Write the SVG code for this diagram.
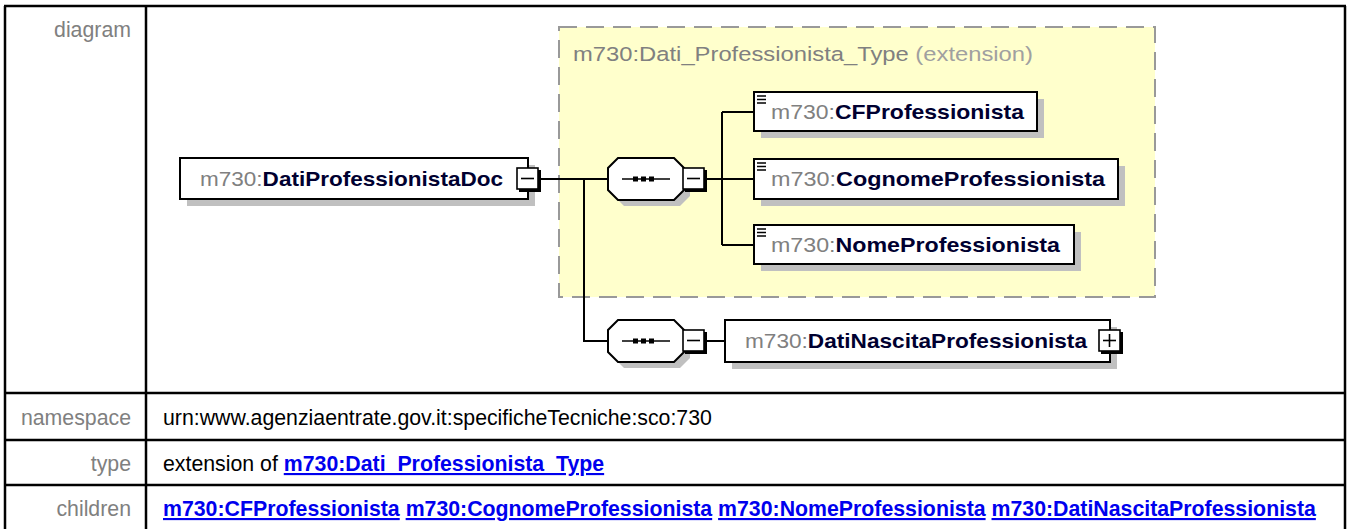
<svg xmlns="http://www.w3.org/2000/svg" width="1348" height="529" viewBox="0 0 1348 529">
<defs>
<style>
.lbl{font-family:"Liberation Sans",Arial,sans-serif;font-size:21.3px;fill:#808080;text-anchor:end}
.val{font-family:"Liberation Sans",Arial,sans-serif;font-size:21.3px;fill:#000}
.lnk{font-family:"Liberation Sans",Arial,sans-serif;font-size:21.3px;font-weight:bold;fill:#0000EE;text-decoration:underline}
.grid{stroke:#000;stroke-width:2.5;fill:none}
.box{fill:#fff;stroke:#000;stroke-width:2}
.shd{fill:#c0c0c0}
.ntxt{font-family:"Liberation Sans",Arial,sans-serif;font-size:20.5px}
.pfx{fill:#808080}
.nm{fill:#000030;font-weight:bold}
.conn{stroke:#000;stroke-width:2;fill:none}
.btn{fill:#fff;stroke:#000;stroke-width:1.6}
.btnshd{fill:#000}
.sym{stroke:#000;stroke-width:1.6}
.icon{stroke:#000;stroke-width:1.5}
</style>
</defs>
<rect width="1348" height="529" fill="#fff"/>

<g id="table">
<line class="grid" x1="4" y1="6" x2="1346" y2="6"/>
<line class="grid" x1="5" y1="6" x2="5" y2="529"/>
<line class="grid" x1="1345" y1="6" x2="1345" y2="529"/>
<line class="grid" x1="146" y1="6" x2="146" y2="529"/>
<line class="grid" x1="5" y1="393" x2="1345" y2="393"/>
<line class="grid" x1="5" y1="440" x2="1345" y2="440"/>
<line class="grid" x1="5" y1="485" x2="1345" y2="485"/>
<text class="lbl" x="131" y="37">diagram</text>
<text class="lbl" x="131" y="425">namespace</text>
<text class="lbl" x="131" y="471">type</text>
<text class="lbl" x="131" y="516">children</text>
<text class="val" x="163" y="425">urn:www.agenziaentrate.gov.it:specificheTecniche:sco:730</text>
<text class="val" x="163" y="471">extension of <tspan class="lnk">m730:Dati_Professionista_Type</tspan></text>
<text class="val" x="163" y="516"><tspan class="lnk">m730:CFProfessionista</tspan> <tspan class="lnk">m730:CognomeProfessionista</tspan> <tspan class="lnk">m730:NomeProfessionista</tspan> <tspan class="lnk">m730:DatiNascitaProfessionista</tspan></text>
</g>

<g id="extension">
<rect x="559" y="27" width="596" height="270" fill="#FFFFCC" stroke="#999" stroke-width="2" stroke-dasharray="18 9"/>
<text class="ntxt" x="573" y="61" textLength="460" lengthAdjust="spacingAndGlyphs"><tspan fill="#808080">m730:Dati_Professionista_Type</tspan><tspan fill="#a0a0a0"> (extension)</tspan></text>
</g>

<g id="connectors">
<path class="conn" d="M540 179 H608 M584 179 V341 H608"/>
<path class="conn" d="M705 179 H722 M722 112 V245 M722 112 H754 M722 179 H754 M722 245 H754"/>
<path class="conn" d="M705 341 H725"/>
</g>

<g id="root">
<rect class="shd" x="187" y="165" width="348" height="41"/>
<rect class="box" x="180" y="158" width="348" height="41"/>
<text class="ntxt" x="200" y="186" textLength="303" lengthAdjust="spacingAndGlyphs"><tspan class="pfx">m730:</tspan><tspan class="nm">DatiProfessionistaDoc</tspan></text>
<rect class="btnshd" x="519" y="170" width="22" height="22"/>
<rect class="btn" x="517" y="168" width="21" height="21"/>
<line class="sym" x1="521" y1="178.5" x2="534" y2="178.5"/>
</g>

<g id="seq1">
<polygon class="shd" points="624,164 680,164 690,174 690,196 680,206 624,206 614,196 614,174"/>
<polygon class="box" points="618,158 674,158 684,168 684,190 674,200 618,200 608,190 608,168"/>
<line class="sym" x1="622" y1="179" x2="670" y2="179"/>
<rect x="633" y="176.5" width="5" height="5" fill="#000"/>
<rect x="641" y="176.5" width="5" height="5" fill="#000"/>
<rect x="649" y="176.5" width="5" height="5" fill="#000"/>
<rect class="btnshd" x="685" y="170" width="22" height="22"/>
<rect class="btn" x="683" y="168" width="21" height="21"/>
<line class="sym" x1="687" y1="178.5" x2="700" y2="178.5"/>
</g>

<g id="cf">
<rect class="shd" x="761" y="99" width="283" height="39"/>
<rect class="box" x="754" y="92" width="283" height="39"/>
<path class="icon" d="M757 96 H766 M757 99.5 H766 M757 103 H766"/>
<text class="ntxt" x="771" y="119" textLength="253" lengthAdjust="spacingAndGlyphs"><tspan class="pfx">m730:</tspan><tspan class="nm">CFProfessionista</tspan></text>
</g>

<g id="cognome">
<rect class="shd" x="761" y="166" width="364" height="40"/>
<rect class="box" x="754" y="159" width="364" height="40"/>
<path class="icon" d="M757 163 H766 M757 166.5 H766 M757 170 H766"/>
<text class="ntxt" x="771" y="186" textLength="334" lengthAdjust="spacingAndGlyphs"><tspan class="pfx">m730:</tspan><tspan class="nm">CognomeProfessionista</tspan></text>
</g>

<g id="nome">
<rect class="shd" x="761" y="232" width="320" height="39"/>
<rect class="box" x="754" y="225" width="320" height="39"/>
<path class="icon" d="M757 229 H766 M757 232.5 H766 M757 236 H766"/>
<text class="ntxt" x="771" y="252" textLength="289" lengthAdjust="spacingAndGlyphs"><tspan class="pfx">m730:</tspan><tspan class="nm">NomeProfessionista</tspan></text>
</g>

<g id="seq2">
<polygon class="shd" points="624,326 680,326 690,336 690,358 680,368 624,368 614,358 614,336"/>
<polygon class="box" points="618,320 674,320 684,330 684,352 674,362 618,362 608,352 608,330"/>
<line class="sym" x1="622" y1="341" x2="670" y2="341"/>
<rect x="633" y="338.5" width="5" height="5" fill="#000"/>
<rect x="641" y="338.5" width="5" height="5" fill="#000"/>
<rect x="649" y="338.5" width="5" height="5" fill="#000"/>
<rect class="btnshd" x="685" y="332" width="22" height="22"/>
<rect class="btn" x="683" y="330" width="21" height="21"/>
<line class="sym" x1="687" y1="340.5" x2="700" y2="340.5"/>
</g>

<g id="datinascita">
<rect class="shd" x="732" y="327" width="385" height="42"/>
<rect class="box" x="725" y="320" width="385" height="42"/>
<text class="ntxt" x="745" y="348" textLength="342" lengthAdjust="spacingAndGlyphs"><tspan class="pfx">m730:</tspan><tspan class="nm">DatiNascitaProfessionista</tspan></text>
<rect class="btnshd" x="1101" y="332" width="22" height="22"/>
<rect class="btn" x="1099" y="330" width="21" height="21"/>
<line class="sym" x1="1103" y1="340.5" x2="1116" y2="340.5"/>
<line class="sym" x1="1109.5" y1="334" x2="1109.5" y2="347"/>
</g>
</svg>
